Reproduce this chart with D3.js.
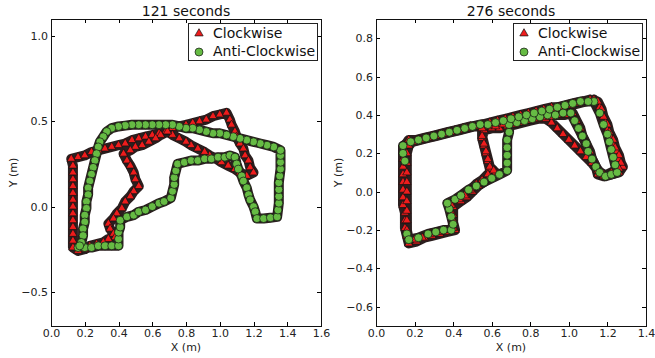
<!DOCTYPE html>
<html>
<head>
<meta charset="utf-8">
<script src="https://cdn.jsdelivr.net/npm/d3@7"></script>
<style>
body{margin:0;background:#fff;}
svg{font-family:"DejaVu Sans",sans-serif;}
</style>
</head>
<body>
<svg id="chart" width="655" height="358"></svg>
<script>

var titles = ['121 seconds','276 seconds'];
var seriesNames = ['Clockwise','Anti-Clockwise'];

// 121 s run, clockwise (red triangles)
var cw121 = [[0.12,0.28],[0.16,0.29],[0.20,0.30],[0.24,0.32],[0.28,0.33],[0.32,0.34],[0.36,0.35],[0.40,0.36],[0.44,0.37],[0.48,0.39],[0.52,0.40],[0.56,0.41],[0.60,0.42],[0.64,0.43],[0.68,0.44],[0.72,0.46],[0.76,0.47],[0.80,0.48],[0.84,0.49],[0.88,0.50],[0.92,0.51],[0.96,0.53],[1.00,0.54],[1.04,0.55],
  [1.06,0.51],[1.07,0.48],[1.09,0.44],[1.10,0.41],[1.12,0.37],[1.14,0.34],[1.15,0.30],[1.17,0.27],[1.18,0.23],[1.20,0.20],
  [1.16,0.18],[1.12,0.20],[1.09,0.22],[1.05,0.24],[1.01,0.26],[0.98,0.28],[0.94,0.30],[0.91,0.32],[0.87,0.34],[0.83,0.36],[0.80,0.38],[0.76,0.40],[0.72,0.42],[0.69,0.44],
  [0.65,0.42],[0.62,0.40],[0.58,0.38],[0.54,0.36],[0.50,0.35],[0.47,0.33],[0.43,0.31],
  [0.45,0.27],[0.47,0.24],[0.49,0.20],[0.50,0.16],[0.52,0.12],
  [0.49,0.09],[0.47,0.06],[0.44,0.03],[0.42,-0.01],[0.39,-0.04],[0.37,-0.07],[0.34,-0.10],
  [0.35,-0.13],[0.37,-0.16],[0.38,-0.18],
  [0.34,-0.19],[0.31,-0.21],[0.27,-0.22],[0.23,-0.23],[0.20,-0.25],[0.16,-0.26],
  [0.13,-0.24],[0.13,-0.20],[0.13,-0.16],[0.13,-0.12],[0.13,-0.08],[0.13,-0.04],[0.13,0.00],[0.13,0.04],[0.13,0.08],[0.13,0.12],[0.13,0.16],[0.13,0.20],[0.13,0.24],[0.12,0.28]];

// 121 s run, anti-clockwise (green circles)
var acw121 = [[0.16,-0.24],[0.20,-0.24],[0.24,-0.24],[0.28,-0.23],[0.32,-0.23],[0.36,-0.23],[0.40,-0.23],
  [0.40,-0.19],[0.40,-0.15],[0.41,-0.12],[0.41,-0.08],
  [0.45,-0.06],[0.49,-0.05],[0.52,-0.03],[0.56,-0.02],[0.60,0.00],[0.64,0.02],[0.67,0.03],[0.71,0.05],
  [0.72,0.09],[0.73,0.13],[0.73,0.17],[0.74,0.21],[0.75,0.25],
  [0.79,0.26],[0.83,0.27],[0.87,0.27],[0.91,0.28],[0.95,0.28],[0.99,0.29],[1.03,0.29],[1.06,0.30],[1.09,0.29],
  [1.10,0.25],[1.11,0.22],[1.13,0.18],[1.14,0.15],[1.16,0.11],[1.17,0.07],[1.18,0.04],[1.20,0.00],[1.21,-0.03],[1.22,-0.07],
  [1.26,-0.07],[1.30,-0.065],[1.34,-0.06],
  [1.345,-0.02],[1.35,0.02],[1.35,0.06],[1.35,0.10],[1.35,0.14],[1.355,0.18],[1.36,0.22],[1.36,0.26],[1.36,0.30],[1.36,0.33],
  [1.32,0.35],[1.28,0.36],[1.24,0.37],[1.20,0.38],[1.16,0.39],[1.12,0.40],[1.08,0.41],[1.04,0.42],[1.00,0.43],[0.96,0.43],[0.92,0.44],[0.88,0.45],[0.84,0.46],[0.80,0.46],[0.76,0.47],[0.72,0.48],[0.68,0.48],[0.64,0.48],[0.60,0.48],[0.56,0.48],[0.52,0.48],[0.48,0.48],[0.44,0.475],[0.40,0.47],[0.36,0.46],
  [0.33,0.44],[0.31,0.41],[0.29,0.38],[0.28,0.35],[0.27,0.31],[0.26,0.27],[0.25,0.23],[0.24,0.19],[0.23,0.15],[0.22,0.11],[0.22,0.07],[0.21,0.03],[0.21,-0.01],[0.20,-0.05],[0.20,-0.09],[0.19,-0.13],[0.19,-0.17],[0.18,-0.21],[0.17,-0.23]];

// 276 s run, clockwise (two laps)
var cw276 = [[0.17,-0.27],[0.16,-0.23],[0.15,-0.19],[0.15,-0.15],[0.15,-0.11],[0.14,-0.07],[0.14,-0.03],[0.14,0.01],[0.14,0.05],[0.14,0.09],[0.14,0.13],[0.14,0.17],[0.14,0.21],[0.15,0.24],[0.17,0.27],
  [0.21,0.27],[0.25,0.28],[0.29,0.29],[0.33,0.30],[0.37,0.31],[0.41,0.32],[0.45,0.33],[0.49,0.34],[0.53,0.34],[0.57,0.35],[0.61,0.36],[0.65,0.37],[0.69,0.38],[0.73,0.39],[0.77,0.40],[0.81,0.41],[0.85,0.42],[0.89,0.42],[0.93,0.43],[0.97,0.44],[1.01,0.45],[1.05,0.46],[1.09,0.47],[1.13,0.48],
  [1.16,0.44],[1.17,0.40],[1.19,0.36],[1.20,0.32],[1.22,0.28],[1.23,0.25],[1.25,0.21],[1.26,0.17],[1.28,0.13],
  [1.26,0.10],[1.22,0.09],[1.18,0.09],[1.15,0.11],[1.12,0.15],
  [1.09,0.18],[1.06,0.21],[1.03,0.24],[1.00,0.27],[0.97,0.30],[0.94,0.33],[0.91,0.36],[0.88,0.38],
  [0.84,0.38],[0.80,0.37],[0.76,0.36],[0.72,0.35],[0.68,0.34],[0.64,0.33],[0.60,0.33],[0.56,0.32],
  [0.55,0.28],[0.56,0.24],[0.57,0.20],[0.58,0.16],[0.59,0.12],[0.62,0.10],
  [0.59,0.08],[0.56,0.05],[0.53,0.03],[0.50,0.00],[0.47,-0.03],[0.44,-0.05],
  [0.40,-0.08],[0.40,-0.12],[0.40,-0.16],[0.41,-0.20],
  [0.37,-0.21],[0.33,-0.22],[0.29,-0.23],[0.25,-0.24],[0.21,-0.26],[0.17,-0.27],
  [0.17,-0.25],[0.16,-0.20],[0.16,-0.15],[0.16,-0.10],[0.16,-0.05],[0.16,0.00],[0.16,0.05],[0.16,0.10],[0.16,0.15],[0.16,0.20],[0.17,0.24],[0.19,0.26],
  [0.23,0.27],[0.27,0.28],[0.31,0.29],[0.35,0.30],[0.39,0.31],[0.43,0.32],[0.47,0.33],[0.51,0.34],[0.55,0.35],[0.59,0.36],[0.63,0.37],[0.67,0.38],[0.71,0.39],[0.75,0.40],[0.79,0.41],[0.83,0.42],[0.87,0.43],[0.91,0.44],[0.95,0.44],[0.99,0.45],[1.03,0.46],[1.07,0.47],[1.11,0.48],[1.15,0.47],
  [1.17,0.43],[1.18,0.39],[1.20,0.35],[1.21,0.31],[1.23,0.27],[1.24,0.23],[1.26,0.19],[1.27,0.15],[1.26,0.12],
  [1.22,0.10],[1.18,0.08],[1.15,0.09],
  [1.14,0.13],[1.12,0.17],[1.11,0.21],[1.09,0.25],[1.07,0.29],[1.06,0.33],[1.04,0.37],[1.02,0.41],
  [0.98,0.40],[0.94,0.40],[0.90,0.39],[0.86,0.39],[0.82,0.38],[0.78,0.37],[0.74,0.36],[0.70,0.36],[0.66,0.35],[0.62,0.34],[0.58,0.34],[0.55,0.33],
  [0.55,0.29],[0.56,0.25],[0.57,0.21],[0.58,0.17],[0.59,0.13],[0.61,0.11],
  [0.58,0.09],[0.55,0.06],[0.52,0.04],[0.49,0.01],[0.46,-0.02],[0.43,-0.04],
  [0.39,-0.07],[0.39,-0.11],[0.40,-0.15],[0.40,-0.19],[0.36,-0.20],[0.32,-0.21],[0.28,-0.22],[0.24,-0.24],[0.20,-0.25],[0.17,-0.25]];

// 276 s run, anti-clockwise
var acw276 = [[0.17,-0.25],[0.22,-0.24],[0.27,-0.22],[0.31,-0.21],[0.35,-0.20],[0.39,-0.20],
  [0.40,-0.17],[0.39,-0.13],[0.38,-0.09],[0.37,-0.06],
  [0.41,-0.04],[0.44,-0.02],[0.48,0.01],[0.52,0.03],[0.56,0.05],[0.60,0.07],[0.64,0.09],[0.68,0.11],
  [0.68,0.15],[0.68,0.19],[0.68,0.23],[0.68,0.27],[0.69,0.31],[0.69,0.35],
  [0.73,0.36],[0.77,0.37],[0.81,0.38],[0.85,0.39],[0.89,0.40],[0.93,0.40],[0.97,0.41],[1.01,0.41],
  [1.03,0.37],[1.05,0.33],[1.07,0.29],[1.09,0.25],[1.10,0.21],[1.12,0.17],[1.14,0.13],[1.16,0.10],
  [1.19,0.08],[1.22,0.09],[1.25,0.10],
  [1.24,0.14],[1.23,0.18],[1.22,0.22],[1.21,0.26],[1.20,0.30],[1.18,0.35],[1.16,0.41],[1.13,0.47],
  [1.10,0.47],[1.06,0.47],[1.02,0.46],[0.98,0.45],[0.94,0.44],[0.90,0.43],[0.86,0.42],[0.82,0.41],[0.78,0.40],[0.74,0.39],[0.70,0.38],[0.66,0.37],[0.62,0.36],[0.58,0.35],[0.54,0.35],[0.50,0.34],[0.46,0.33],[0.42,0.32],[0.38,0.31],[0.34,0.30],[0.30,0.29],[0.26,0.28],[0.22,0.27],[0.18,0.26],
  [0.14,0.24],[0.14,0.20],[0.15,0.16],[0.16,-0.22],[0.17,-0.25]];

var xTicks121 = [0,0.2,0.4,0.6,0.8,1.0,1.2,1.4,1.6];
var yTicks121 = [-0.5,0,0.5,1.0];
var xTicks276 = [0,0.2,0.4,0.6,0.8,1.0,1.2,1.4];
var yTicks276 = [-0.6,-0.4,-0.2,0,0.2,0.4,0.6,0.8];

var redFill = '#ee1c1c';
var greenFill = '#66bb44';
var bandColor = '#2b1f1f';

var svg = d3.select('#chart');
var fmt = d3.format('.1f');

var top_ = 19, bottom_ = 326, plotW = 270;

var panels = [
  {title:titles[0], cw:cw121, acw:acw121, xdom:[0,1.6], ydom:[-0.7,1.1], xticks:xTicks121, yticks:yTicks121, left:51},
  {title:titles[1], cw:cw276, acw:acw276, xdom:[0,1.4], ydom:[-0.7,0.9], xticks:xTicks276, yticks:yTicks276, left:376}
];

var tri = d3.symbol().type(d3.symbolTriangle).size(30)();

var drawPanel = function(p){
  var x = d3.scaleLinear().domain(p.xdom).range([p.left, p.left+plotW]);
  var y = d3.scaleLinear().domain(p.ydom).range([bottom_, top_]);
  var g = svg.append('g');

  var line = d3.line().x(function(d){return x(d[0]);}).y(function(d){return y(d[1]);});

  // dark bands where the markers overlap
  [p.acw, p.cw].forEach(function(s){
    g.append('path').attr('d', line(s))
     .attr('fill','none').attr('stroke',bandColor).attr('stroke-width',10)
     .attr('stroke-linejoin','round').attr('stroke-linecap','round');
  });

  g.selectAll('.tri').data(p.cw).enter().append('path')
   .attr('d', tri)
   .attr('transform', function(d){return 'translate('+x(d[0])+','+y(d[1])+')';})
   .attr('fill', redFill).attr('stroke','#111').attr('stroke-width',0.7);

  g.selectAll('.dot').data(p.acw).enter().append('circle')
   .attr('cx', function(d){return x(d[0]);})
   .attr('cy', function(d){return y(d[1]);})
   .attr('r', 4)
   .attr('fill', greenFill).attr('stroke','#111').attr('stroke-width',0.7);

  // axes, ticks inward on all four sides
  var ax = [
    {a:d3.axisBottom(x).tickValues(p.xticks).tickFormat(fmt), t:'translate(0,'+bottom_+')'},
    {a:d3.axisTop(x).tickValues(p.xticks).tickFormat(''), t:'translate(0,'+top_+')'},
    {a:d3.axisLeft(y).tickValues(p.yticks).tickFormat(fmt), t:'translate('+p.left+',0)'},
    {a:d3.axisRight(y).tickValues(p.yticks).tickFormat(''), t:'translate('+(p.left+plotW)+',0)'}
  ];
  ax.forEach(function(o){
    var ag = g.append('g').attr('transform', o.t)
              .call(o.a.tickSize(-4).tickPadding(3));
    ag.select('.domain').remove();
    ag.selectAll('line').attr('stroke','#000').attr('shape-rendering','crispEdges');
    ag.selectAll('text').attr('font-size',11).attr('font-family','"DejaVu Sans",sans-serif').attr('fill','#222');
  });

  g.append('rect').attr('x',p.left).attr('y',top_).attr('width',plotW).attr('height',bottom_-top_)
   .attr('fill','none').attr('stroke','#111').attr('stroke-width',1).attr('shape-rendering','crispEdges');

  g.append('text').attr('x',p.left+plotW/2).attr('y',16).attr('text-anchor','middle')
   .attr('font-size',14).attr('fill','#111').text(p.title);

  g.append('text').attr('x',p.left+plotW/2).attr('y',351).attr('text-anchor','middle')
   .attr('font-size',11).attr('fill','#222').text('X (m)');

  g.append('text').attr('transform','translate('+(p.left-34)+','+((top_+bottom_)/2)+') rotate(-90)')
   .attr('text-anchor','middle').attr('font-size',11).attr('fill','#222').text('Y (m)');

  // legend
  var lg = g.append('g').attr('transform','translate('+(p.left+137)+',23)');
  lg.append('rect').attr('width',129).attr('height',37).attr('fill','#fff')
    .attr('stroke','#222').attr('stroke-width',1).attr('shape-rendering','crispEdges');
  lg.append('path').attr('d',tri).attr('transform','translate(11,10.5)')
    .attr('fill',redFill).attr('stroke','#111').attr('stroke-width',0.7);
  lg.append('circle').attr('cx',11).attr('cy',29).attr('r',4)
    .attr('fill',greenFill).attr('stroke','#111').attr('stroke-width',0.7);
  lg.selectAll('.lt').data(seriesNames).enter().append('text')
    .attr('x',25).attr('y',function(d,i){return 14.5+i*18;})
    .attr('font-size',14).attr('fill','#111').text(function(d){return d;});
};

panels.forEach(drawPanel);

</script>
</body>
</html>
